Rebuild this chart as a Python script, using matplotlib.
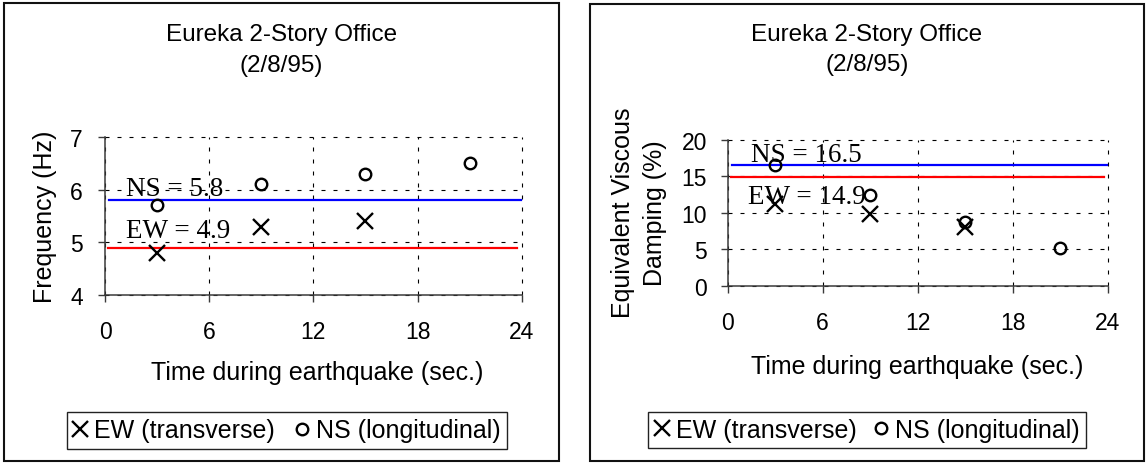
import matplotlib
matplotlib.use("Agg")
import matplotlib.pyplot as plt
from matplotlib.lines import Line2D
from matplotlib.patches import Rectangle

# ---- data -------------------------------------------------------------
time_ew = [3, 9, 15]
time_ns = [3, 9, 15, 21]

freq_ew = [4.8, 5.3, 5.4]
freq_ns = [5.7, 6.1, 6.3, 6.5]
freq_avg_ew = 4.9
freq_avg_ns = 5.8

damp_ew = [11.2, 9.9, 8.0]
damp_ns = [16.6, 12.4, 8.7, 5.2]
damp_avg_ew = 14.9
damp_avg_ns = 16.5

x_ticks = [0, 6, 12, 18, 24]
freq_ticks = [4, 5, 6, 7]
damp_ticks = [0, 5, 10, 15, 20]

title_lines = ["Eureka 2-Story Office", "(2/8/95)"]
xlabel = "Time during earthquake (sec.)"
legend_labels = ["EW (transverse)", "NS (longitudinal)"]

# ---- figure -----------------------------------------------------------
W, H = 1147, 464
DPI = 100
fig = plt.figure(figsize=(W / DPI, H / DPI), dpi=DPI)
plt.rcParams["font.family"] = ["Liberation Sans", "DejaVu Sans"]

TITLE = 17.5
LABEL = 18
TICK = 16.5
SERIF = 19.5


def fx(px):
    return px / W


def fy(py):
    return 1 - py / H


def axes_px(x0, y0, x1, y1):
    return fig.add_axes([fx(x0), fy(y1), fx(x1) - fx(x0), fy(y0) - fy(y1)])


def style_axes(ax, yticks, ylim, xpad, ypad):
    ax.set_xlim(0, 24)
    ax.set_ylim(*ylim)
    ax.set_xticks(x_ticks)
    ax.set_yticks(yticks)
    for s in ("top", "right"):
        ax.spines[s].set_visible(False)
    for s in ("left", "bottom"):
        ax.spines[s].set_color("#3a3a3a")
        ax.spines[s].set_linewidth(1.1)
    ax.tick_params(axis="both", direction="out", length=5, width=1.0,
                   color="#3a3a3a", labelsize=TICK)
    ax.tick_params(axis="x", pad=xpad)
    ax.tick_params(axis="y", pad=ypad)
    ax.grid(True, color="black", linewidth=0.8, linestyle=(0, (3.6, 7.2)))
    ax.set_axisbelow(True)
    for gl in ax.get_xgridlines() + ax.get_ygridlines():
        gl.set_clip_on(False)


def draw_points(ax, ys_ew, ys_ns):
    ax.plot(time_ew, ys_ew, linestyle="none", marker="x", markersize=11.5,
            markeredgewidth=1.7, color="black", zorder=5)
    ax.plot(time_ns, ys_ns, linestyle="none", marker="o", markersize=8.3,
            markeredgewidth=1.7, markerfacecolor="none",
            markeredgecolor="black", zorder=5)


def draw_avg(ax, ns_val, ew_val, ns_xy, ew_xy, fmt):
    ax.plot([0.25, 23.95], [ns_val, ns_val], color="#0000ff", lw=1.6, zorder=3,
            clip_on=False)
    ax.plot([0.2, 23.75], [ew_val, ew_val], color="#ff0000", lw=1.6, zorder=3,
            clip_on=False)
    ax.text(*ns_xy, f"NS = {ns_val:{fmt}}", family=["Liberation Serif"],
            fontsize=SERIF, va="baseline", ha="left", zorder=4)
    ax.text(*ew_xy, f"EW = {ew_val:{fmt}}", family=["Liberation Serif"],
            fontsize=SERIF, va="baseline", ha="left", zorder=4)


def legend(cx, cy, spacing):
    handles = [
        Line2D([], [], linestyle="none", marker="x", markersize=11.5,
               markeredgewidth=1.7, color="black"),
        Line2D([], [], linestyle="none", marker="o", markersize=8.3,
               markeredgewidth=1.7, markerfacecolor="none",
               markeredgecolor="black"),
    ]
    leg = fig.legend(handles, legend_labels, loc="center",
                     bbox_to_anchor=(fx(cx), fy(cy)), ncol=2, frameon=True,
                     fancybox=False, fontsize=LABEL, handlelength=0.6,
                     handletextpad=0.25, columnspacing=spacing, borderpad=0.25,
                     borderaxespad=0, numpoints=1)
    fr = leg.get_frame()
    fr.set_edgecolor("#222222")
    fr.set_linewidth(1.0)
    fr.set_alpha(1)


def panel_frame(x0, y0, x1, y1):
    fig.patches.append(Rectangle((fx(x0), fy(y1)), fx(x1) - fx(x0),
                                 fy(y0) - fy(y1), transform=fig.transFigure,
                                 fill=False, edgecolor="#111111", lw=1.5))


# ---- left panel: frequency ------------------------------------------
panel_frame(4, 4, 559, 462)
ax1 = axes_px(105, 138, 521.7, 296)
style_axes(ax1, freq_ticks, (4, 7), xpad=13, ypad=11)
draw_points(ax1, freq_ew, freq_ns)
draw_avg(ax1, freq_avg_ns, freq_avg_ew, (1.2, 5.89), (1.2, 5.10), ".1f")
fig.text(fx(281.5), fy(35), title_lines[0], ha="center", va="center", fontsize=TITLE)
fig.text(fx(281.5), fy(66), title_lines[1], ha="center", va="center", fontsize=TITLE)
fig.text(fx(45), fy(217), "Frequency (Hz)", rotation=90, ha="center",
         va="center", fontsize=LABEL)
fig.text(fx(317), fy(373), xlabel, ha="center", va="center", fontsize=LABEL)
legend(286.7, 431.3, 0.8)

# ---- right panel: damping -------------------------------------------
panel_frame(590, 5, 1144, 462)
ax2 = axes_px(727.7, 141, 1107.7, 286.7)
style_axes(ax2, damp_ticks, (0, 20), xpad=13, ypad=10)
draw_points(ax2, damp_ew, damp_ns)
draw_avg(ax2, damp_avg_ns, damp_avg_ew, (1.45, 17.15), (1.3, 11.3), ".1f")
fig.text(fx(867), fy(35), title_lines[0], ha="center", va="center", fontsize=TITLE)
fig.text(fx(867), fy(65), title_lines[1], ha="center", va="center", fontsize=TITLE)
fig.text(fx(623.3), fy(213), "Equivalent Viscous", rotation=90, ha="center",
         va="center", fontsize=LABEL)
fig.text(fx(655), fy(213), "Damping (%)", rotation=90, ha="center",
         va="center", fontsize=LABEL)
fig.text(fx(917), fy(367), xlabel, ha="center", va="center", fontsize=LABEL)
legend(867, 431, 0.7)

fig.savefig("out.png", dpi=DPI, facecolor="white")
